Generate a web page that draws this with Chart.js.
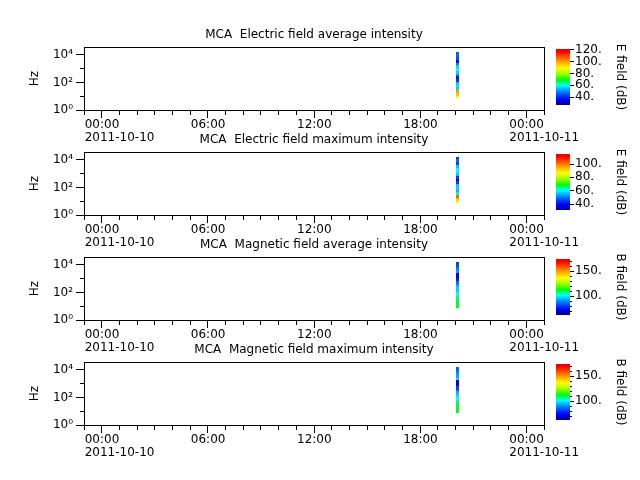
<!DOCTYPE html>
<html>
<head>
<meta charset="utf-8">
<script src="https://cdn.jsdelivr.net/npm/chart.js@4.4.1/dist/chart.umd.min.js"></script>
<style>
  body { margin: 0; background: #fff; }
  #wrap { position: relative; width: 640px; height: 480px; overflow: hidden; }
  canvas { position: absolute; }
</style>
</head>
<body>
<div id="wrap"></div>
<script>
// panel texts
const panelTitles = [
    'MCA  Electric field average intensity',
    'MCA  Electric field maximum intensity',
    'MCA  Magnetic field average intensity',
    'MCA  Magnetic field maximum intensity'
];
const colorbarTitles = ['E field (dB)', 'E field (dB)', 'B field (dB)', 'B field (dB)'];

// time axis (hours from 2011-10-10 00:00)
const hourTicks = [-1, 0, 1, 2, 3, 4, 5, 6, 7, 8, 9, 10, 11, 12, 13, 14, 15, 16, 17, 18, 19, 20, 21, 22, 23, 24, 25];
const majorHours = [0, 6, 12, 18, 24];
const timeLabels = ['00:00', '06:00', '12:00', '18:00', '00:00'];
const dateLabels = ['2011-10-10', '', '', '', '2011-10-11'];

// frequency axis
const freqTicks = [1, 10, 100, 1000, 10000];
const freqTickLabels = ['10⁰', '', '10²', '', '10⁴'];

// spectrum column: time span and frequency bin edges (Hz)
const timeEdges = [20.05, 20.2];
const freqEdges = [7, 11, 17.5, 28, 44, 70, 110, 175, 280, 440, 700, 1100, 1750, 2800, 4400, 7000, 11000, 17000];

// intensities per frequency bin (dB), low to high frequency
const eAvgDb = [88, 95, 100, 56, 58, 55, 42, 38, 50, 57, 60, 56, 50, 38, 44, 47, 45];
const eMaxDb = [86, 92, 102, 63, 55, 57, 56, 44, 38, 45, 56, 60, 60, 56, 45, 49, 44];
const bAvgDb = [112, 111, 110, 109, 105, 101, 97, 96, 91, 87, 77, 71, 73, 92, 87, 82, 81];
const bMaxDb = [112, 111, 110, 109, 105, 101, 97, 94, 84, 81, 73, 71, 99, 93, 91, 87, 84];

// colorbar ranges and ticks
const dbRanges = [[27, 121], [31, 115], [62, 174], [62, 174]];
const eFieldTicks = [40, 60, 80, 100, 120];
const bFieldTicks = [70, 80, 90, 100, 110, 120, 130, 140, 150, 160, 170];
const bFieldLabels = [100, 150];

const panelValues = [eAvgDb, eMaxDb, bAvgDb, bMaxDb];

// rainbow colour table
const cmapStops = [
    [0.00, [0, 0, 140]],
    [0.10, [0, 0, 255]],
    [0.25, [0, 140, 255]],
    [0.35, [0, 255, 255]],
    [0.45, [0, 255, 0]],
    [0.55, [150, 255, 0]],
    [0.66, [255, 255, 0]],
    [0.80, [255, 140, 0]],
    [0.95, [255, 0, 0]],
    [1.00, [230, 0, 0]]
];

function dbColor(frac) {
    frac = Math.max(0, Math.min(1, frac));
    for (let k = 1; k < cmapStops.length; k++) {
        const [f1, c1] = cmapStops[k];
        const [f0, c0] = cmapStops[k - 1];
        if (frac <= f1) {
            const t = (frac - f0) / (f1 - f0);
            const c = c0.map((v, j) => Math.round(v + (c1[j] - v) * t));
            return 'rgb(' + c.join(',') + ')';
        }
    }
    return 'rgb(230,0,0)';
}

Chart.defaults.font.family = 'DejaVu Sans';
Chart.defaults.font.size = 12;
Chart.defaults.color = '#000';

// draws the spectrogram cells through the chart scales
function makeSpectrogram(values, range) {
    return {
        id: 'spectrogram',
        beforeDatasetsDraw(chart) {
            const {ctx, chartArea, scales: {x, y}} = chart;
            ctx.save();
            ctx.beginPath();
            ctx.rect(chartArea.left, chartArea.top, chartArea.width, chartArea.height);
            ctx.clip();
            const x0 = Math.round(x.getPixelForValue(timeEdges[0]));
            const x1 = Math.round(x.getPixelForValue(timeEdges[1]));
            values.forEach((v, k) => {
                const yTop = Math.round(y.getPixelForValue(freqEdges[k + 1]));
                const yBot = Math.round(y.getPixelForValue(freqEdges[k]));
                ctx.fillStyle = dbColor((v - range[0]) / (range[1] - range[0]));
                ctx.fillRect(x0, yTop, Math.max(1, x1 - x0), yBot - yTop);
            });
            ctx.restore();
        }
    };
}

// full box round the plot area
const frame = {
    id: 'frame',
    afterDraw(chart) {
        const {ctx, chartArea} = chart;
        const a = p => Math.round(p - 0.5) + 0.5;
        ctx.save();
        ctx.strokeStyle = '#000';
        ctx.lineWidth = 1;
        ctx.strokeRect(a(chartArea.left), a(chartArea.top),
            a(chartArea.right) - a(chartArea.left), a(chartArea.bottom) - a(chartArea.top));
        ctx.restore();
    }
};

// colour gradient inside the colorbar
function makeColorbar(range) {
    return {
        id: 'colorbar',
        beforeDatasetsDraw(chart) {
            const {ctx, chartArea, scales: {y}} = chart;
            const g = ctx.createLinearGradient(0, y.getPixelForValue(range[0]), 0, y.getPixelForValue(range[1]));
            cmapStops.forEach(([f, c]) => g.addColorStop(f, 'rgb(' + c.join(',') + ')'));
            ctx.save();
            ctx.fillStyle = g;
            ctx.fillRect(chartArea.left, chartArea.top, chartArea.width, chartArea.height);
            ctx.restore();
        }
    };
}

function addCanvas(left, top, w, h) {
    const c = document.createElement('canvas');
    c.width = w;
    c.height = h;
    c.style.left = left + 'px';
    c.style.top = top + 'px';
    document.getElementById('wrap').appendChild(c);
    return c;
}

panelTitles.forEach((title, i) => {
    const range = dbRanges[i];

    // main spectrogram panel
    new Chart(addCanvas(0, 105 * i, 640, 150), {
        type: 'scatter',
        data: { datasets: [] },
        plugins: [makeSpectrogram(panelValues[i], range), frame],
        options: {
            responsive: false,
            animation: false,
            layout: { padding: { top: 28, right: 96, bottom: 0, left: 0 } },
            plugins: {
                legend: { display: false },
                tooltip: { enabled: false },
                title: {
                    display: true,
                    text: title,
                    fullSize: false,
                    font: { size: 12, weight: 'normal' },
                    padding: { top: 0, bottom: 4.6 }
                }
            },
            scales: {
                x: {
                    type: 'linear',
                    position: 'bottom',
                    min: -1,
                    max: 25,
                    afterBuildTicks: s => { s.ticks = hourTicks.map(v => ({ value: v })); },
                    afterFit: s => { s.height = 40; },
                    ticks: {
                        autoSkip: false,
                        maxRotation: 0,
                        minRotation: 0,
                        align: 'start',
                        labelOffset: -17,
                        padding: 1,
                        font: { size: 12, lineHeight: 1.05 },
                        callback: v => {
                            const k = majorHours.indexOf(v);
                            if (k < 0) return '';
                            return dateLabels[k] ? [timeLabels[k], dateLabels[k]] : timeLabels[k];
                        }
                    },
                    grid: {
                        drawOnChartArea: false,
                        tickLength: 8,
                        tickColor: '#000',
                        tickBorderDash: c => majorHours.includes(c.tick && c.tick.value) ? [] : [4, 100]
                    },
                    border: { display: true, color: '#000' }
                },
                y: {
                    type: 'logarithmic',
                    position: 'left',
                    min: 1,
                    max: 38000,
                    afterBuildTicks: s => { s.ticks = freqTicks.map(v => ({ value: v })); },
                    afterFit: s => { s.width = 84; },
                    ticks: {
                        autoSkip: false,
                        padding: 3,
                        font: { size: 12 },
                        callback: v => freqTickLabels[freqTicks.indexOf(v)] || ''
                    },
                    grid: {
                        drawOnChartArea: false,
                        tickLength: 8,
                        tickColor: '#000',
                        // left ticks are stroked from the outer end, so minor ones start with a gap
                        tickBorderDash: c => freqTickLabels[freqTicks.indexOf(c.tick && c.tick.value)] ? [] : [0, 4, 5, 100]
                    },
                    border: { display: true, color: '#000' },
                    title: {
                        display: true,
                        text: 'Hz',
                        font: { size: 12 },
                        padding: { top: 28, bottom: 0 }
                    }
                }
            }
        }
    });

    // colorbar
    const isE = i < 2;
    const cbTicks = (isE ? eFieldTicks : bFieldTicks).filter(v => v >= range[0] && v <= range[1]);
    const isLabeled = v => isE || bFieldLabels.includes(v);
    new Chart(addCanvas(540, 105 * i, 100, 150), {
        type: 'scatter',
        data: { datasets: [] },
        plugins: [makeColorbar(range)],
        options: {
            responsive: false,
            animation: false,
            layout: { padding: { top: 49, right: 0, bottom: 45, left: 16 } },
            plugins: { legend: { display: false }, tooltip: { enabled: false } },
            scales: {
                x: { display: false, min: 0, max: 1 },
                y: {
                    type: 'linear',
                    position: 'right',
                    min: range[0],
                    max: range[1],
                    afterBuildTicks: s => { s.ticks = cbTicks.map(v => ({ value: v })); },
                    afterFit: s => { s.width = 70; },
                    ticks: {
                        autoSkip: false,
                        padding: 1,
                        font: { size: 12 },
                        callback: v => isLabeled(v) ? v + '.' : ''
                    },
                    grid: {
                        drawOnChartArea: false,
                        tickLength: 4,
                        tickColor: '#000',
                        tickBorderDash: c => isLabeled(c.tick && c.tick.value) ? [] : [2, 100]
                    },
                    border: { display: false },
                    title: {
                        display: true,
                        text: colorbarTitles[i],
                        font: { size: 12 },
                        padding: { top: 12.8, bottom: 0 }
                    }
                }
            }
        }
    });
});
</script>
</body>
</html>
